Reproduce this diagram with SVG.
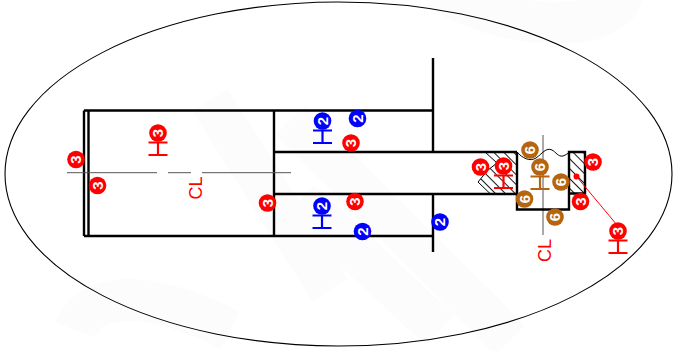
<svg xmlns="http://www.w3.org/2000/svg" width="677" height="351" viewBox="0 0 677 351">
<style>
text{font-family:"Liberation Sans",Arial,sans-serif}
.wm{fill:none;stroke:#fcfcfc;stroke-width:42}
.k{fill:none;stroke:#000;stroke-width:2.4}
.t{fill:none;stroke:#000;stroke-width:1}
.cl{fill:none;stroke:#555;stroke-width:1}
.b{fill:none;stroke:currentColor;stroke-width:2.200}
.n{font-size:15px;font-weight:bold;fill:#fff;text-anchor:middle}
.lbl{font-size:18px;fill:#f00;text-anchor:middle}
.red{color:#f00}.blue{color:#00f}.brown{color:#b5650f}
</style>
<defs>
<pattern id="h" width="7" height="7" patternUnits="userSpaceOnUse" patternTransform="rotate(-45)"><path d="M3.500 0V7" stroke="#000" stroke-width="0.9" fill="none"/></pattern>
<g id="c"><circle r="8.800" fill="currentColor"/></g>
<g id="bar"><path class="b" d="M-9.500 9.500H9.500M-9.500 22H9.500M0 9.500V22"/></g>
</defs>
<rect width="677" height="351" fill="#fff"/>
<g id="watermark">
<path class="wm" d="M230 330C150 290 90 290 75 330"/>
<path class="wm" d="M210 100 330 290M300 200 440 330M440 -10C520 40 640 30 620 -20M290 120 510 340"/>
</g>
<ellipse id="boundary" cx="338.500" cy="174" rx="333.500" ry="172" fill="none" stroke="#000" stroke-width="1.100"/>
<g id="connectors">
<path class="k" d="M84 110.500H433M84 236H433M84 110.500V236M88.500 110.500V236M274 110.500V236M274 152H517M274 194H517M433 58V152M433 194V252"/>
<path class="cl" d="M67 172.700H157M168 172.700H191M202 172.700H291M543 135V235"/>
<path d="M485 152 497 163 488 170 478 182 490 193.500H517V152Z" fill="url(#h)"/>
<path class="t" d="M485 152 497 163 488 170 478 182 490 193.500"/>
<rect x="569" y="152" width="16" height="41.500" fill="url(#h)"/>
<path class="k" d="M517 152V209.500H569V152H585V193.500H569"/>
<path class="t" d="M517 152C522 158 530 162 536 158C542 154 546 147 552 150C556 152 558 157 563 156C566 155 568 153 569 153"/>
<path d="M576.500 176.500 617 225" fill="none" stroke="#f00" stroke-width="1"/>
<circle cx="576.500" cy="176.500" r="3" fill="#f00"/>
</g>
<g id="n1" class="red" transform="translate(158 133)"><use href="#c"/><use href="#bar"/><text class="n" transform="rotate(-90) translate(0 5.300)">3</text></g>
<g id="n2" class="red" transform="translate(76 159.500)"><use href="#c"/><text class="n" transform="rotate(-90) translate(0 5.300)">3</text></g>
<g id="n3" class="red" transform="translate(97.500 185.500)"><use href="#c"/><text class="n" transform="rotate(-90) translate(0 5.300)">3</text></g>
<g id="n4" class="red" transform="translate(267.500 203)"><use href="#c"/><text class="n" transform="rotate(-90) translate(0 5.300)">3</text></g>
<g id="n5" class="red" transform="translate(351 143)"><use href="#c"/><text class="n" transform="rotate(-90) translate(0 5.300)">3</text></g>
<g id="n6" class="red" transform="translate(355 201.500)"><use href="#c"/><text class="n" transform="rotate(-90) translate(0 5.300)">3</text></g>
<g id="n7" class="blue" transform="translate(322.500 121)"><use href="#c"/><use href="#bar"/><text class="n" transform="rotate(-90) translate(0 5.300)">2</text></g>
<g id="n8" class="blue" transform="translate(357.500 118.500)"><use href="#c"/><text class="n" transform="rotate(-90) translate(0 5.300)">2</text></g>
<g id="n9" class="blue" transform="translate(322 206)"><use href="#c"/><use href="#bar"/><text class="n" transform="rotate(-90) translate(0 5.300)">2</text></g>
<g id="n10" class="blue" transform="translate(362.500 231.500)"><use href="#c"/><text class="n" transform="rotate(-90) translate(0 5.300)">2</text></g>
<g id="n11" class="blue" transform="translate(440 222)"><use href="#c"/><text class="n" transform="rotate(-90) translate(0 5.300)">2</text></g>
<g id="n12" class="red" transform="translate(480.500 167)"><use href="#c"/><text class="n" transform="rotate(-90) translate(0 5.300)">3</text></g>
<g id="n13" class="red" transform="translate(503.500 166)"><use href="#c"/><use href="#bar"/><text class="n" transform="rotate(-90) translate(0 5.300)">3</text></g>
<g id="n14" class="red" transform="translate(593 162)"><use href="#c"/><text class="n" transform="rotate(-90) translate(0 5.300)">3</text></g>
<g id="n15" class="red" transform="translate(580.500 201.500)"><use href="#c"/><text class="n" transform="rotate(-90) translate(0 5.300)">3</text></g>
<g id="n16" class="red" transform="translate(618 231)"><use href="#c"/><use href="#bar"/><text class="n" transform="rotate(-90) translate(0 5.300)">3</text></g>
<g id="n17" class="brown" transform="translate(530 150)"><use href="#c"/><text class="n" transform="rotate(-90) translate(0 5.300)">6</text></g>
<g id="n18" class="brown" transform="translate(540 167)"><use href="#c"/><use href="#bar"/><text class="n" transform="rotate(-90) translate(0 5.300)">6</text></g>
<g id="n19" class="brown" transform="translate(561 182)"><use href="#c"/><text class="n" transform="rotate(-90) translate(0 5.300)">6</text></g>
<g id="n20" class="brown" transform="translate(524.500 199)"><use href="#c"/><text class="n" transform="rotate(-90) translate(0 5.300)">6</text></g>
<g id="n21" class="brown" transform="translate(555 217)"><use href="#c"/><text class="n" transform="rotate(-90) translate(0 5.300)">6</text></g>
<text class="lbl" transform="translate(201.500 188) rotate(-90)">CL</text>
<text class="lbl" transform="translate(551 250.500) rotate(-90)">CL</text>
</svg>
